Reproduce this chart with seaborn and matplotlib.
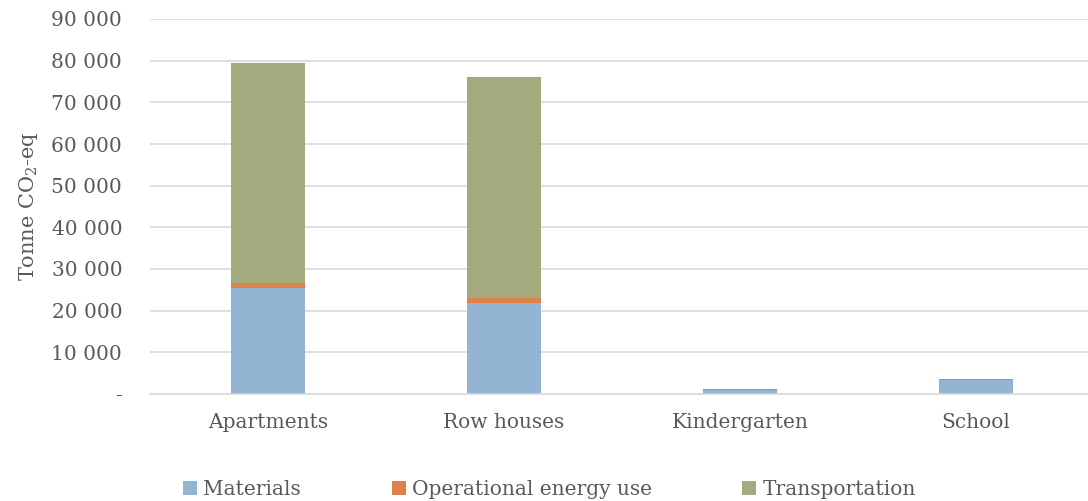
import matplotlib
matplotlib.use("Agg")
import matplotlib.pyplot as plt
import matplotlib.ticker as mticker
import seaborn as sns
import pandas as pd
import numpy as np
from matplotlib.patches import Patch

categories = ["Apartments", "Row houses", "Kindergarten", "School"]
materials = [25500, 21900, 1050, 3400]
operational = [1200, 1200, 150, 120]
transportation = [52800, 53000, 0, 0]
series_names = ["Materials", "Operational energy use", "Transportation"]
colors = ["#93b4d3", "#e0804a", "#a3aa7e"]

sns.set_theme(style="white")
plt.rcParams['font.family'] = ['DejaVu Serif']
plt.rcParams['mathtext.fontset'] = 'dejavuserif'

df = pd.DataFrame({"category": categories,
                   "m": materials,
                   "o": operational,
                   "t": transportation})
df["c1"] = df["m"]
df["c2"] = df["m"] + df["o"]
df["c3"] = df["c2"] + df["t"]

fig = plt.figure(figsize=(10.88, 5.01), dpi=100)
ax = fig.add_axes([150/1088, 1-394/501, 944/1088, (394-19)/501])

for col, colr in zip(["c3", "c2", "c1"], colors[::-1]):
    sns.barplot(data=df, x="category", y=col, color=colr, width=0.31,
                saturation=1, ax=ax, order=categories, linewidth=0)

ax.set_ylim(0, 90000)
ax.set_xlim(-0.5, 3.5)
ax.set_yticks(np.arange(0, 90001, 10000))

def fmt(v, pos):
    if v == 0:
        return "-"
    return f"{int(v):,}".replace(",", " ")
ax.yaxis.set_major_formatter(mticker.FuncFormatter(fmt))
ax.yaxis.grid(True, color="#d9d9d9", linewidth=1.2)
ax.set_axisbelow(True)
for s in ["top", "right", "left"]:
    ax.spines[s].set_visible(False)
ax.spines["bottom"].set_color("#d9d9d9")
ax.spines["bottom"].set_linewidth(1.2)
ax.tick_params(axis="y", length=0, pad=20, labelsize=14.5, labelcolor="#595959")
ax.tick_params(axis="x", length=0, pad=14, labelsize=14.5, labelcolor="#595959")
ax.set_xlabel("")
ax.set_ylabel("Tonne CO$_2$-eq", fontsize=15, color="#595959", labelpad=8)

handles = [Patch(facecolor=c, edgecolor="none") for c in colors]
fig.legend(handles, series_names, loc="lower center", bbox_to_anchor=(0.505, -0.033),
           ncol=3, frameon=False, fontsize=14.5, labelcolor="#595959",
           handlelength=0.7, handleheight=0.7, handletextpad=0.3, columnspacing=4.5)

fig.savefig("out.png", dpi=100)
